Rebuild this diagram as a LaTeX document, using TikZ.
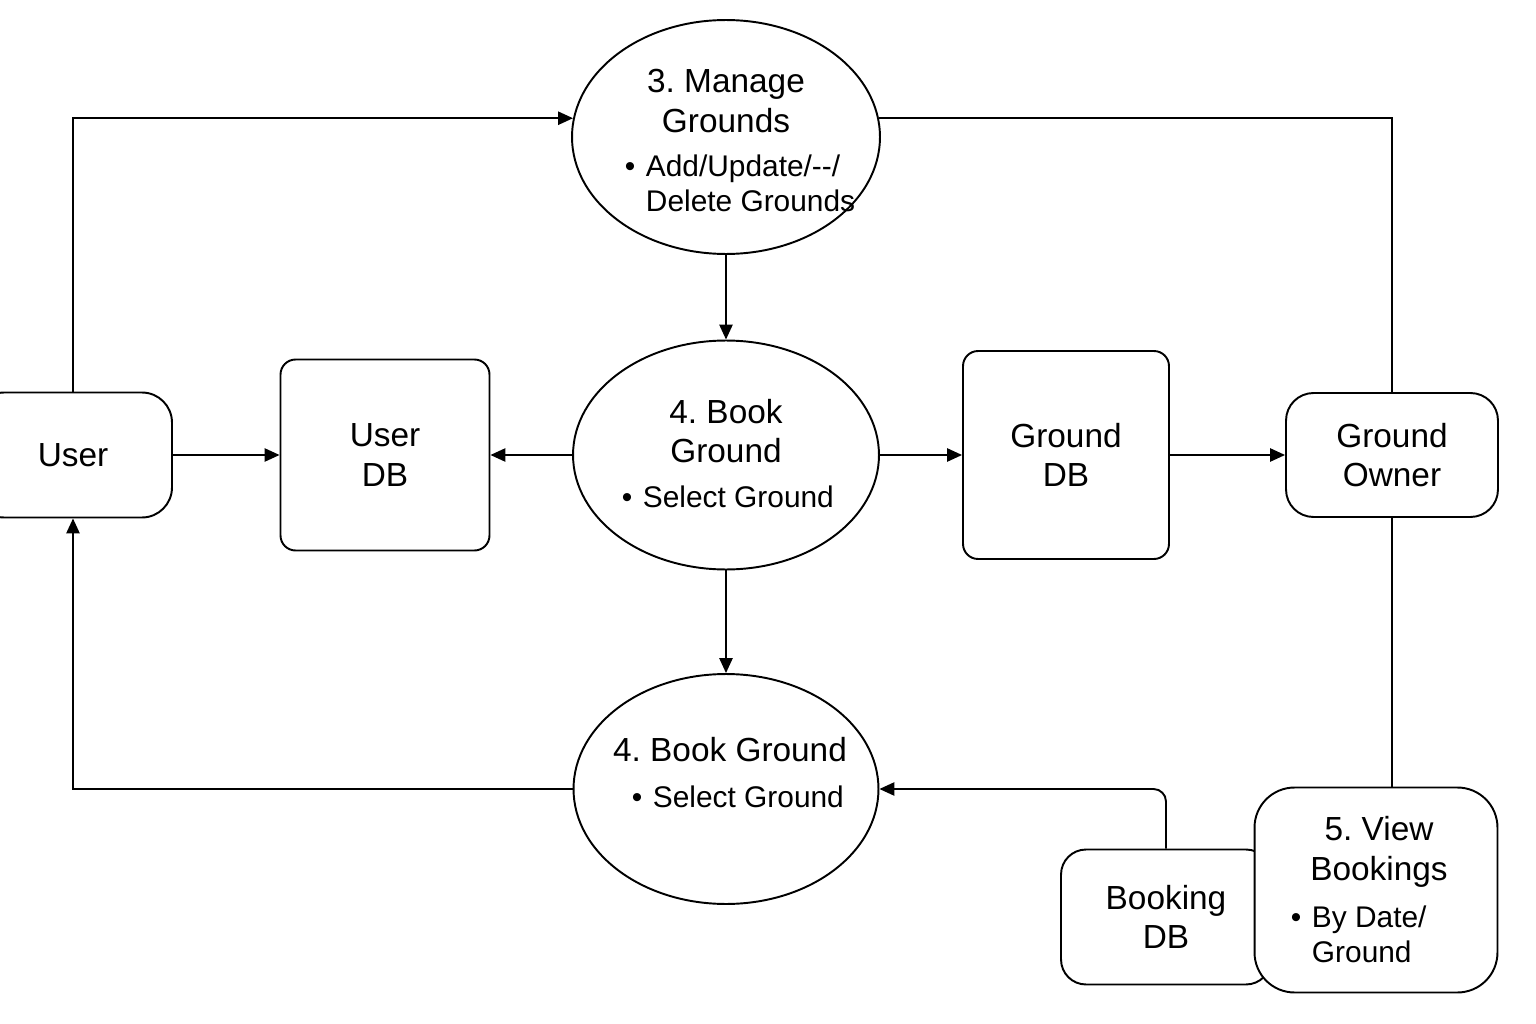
\documentclass[tikz,border=0pt]{standalone}
\usepackage{fontspec}
\setmainfont{Liberation Sans}
\usetikzlibrary{shapes.geometric,arrows.meta}
\frenchspacing
\newcommand{\bitem}[1]{\begin{tabular}{@{}l@{\hspace{6pt}}l@{}}\textbullet&#1\end{tabular}}
\begin{document}
\begin{tikzpicture}[
    x=0.02cm, y=-0.02cm,
    line width=1.1pt,
    box/.style={draw, rectangle, fill=white, align=center, inner sep=0pt,
        font=\fontsize{19}{22.5}\selectfont},
    proc/.style={draw, ellipse, inner sep=0pt},
    title/.style={align=center, inner sep=0pt, font=\fontsize{19}{22.5}\selectfont},
    bullets/.style={anchor=west, inner sep=0pt, font=\fontsize{17}{20}\selectfont},
    flow/.style={-{Triangle[length=8.5pt,width=7.5pt]}}
]
\useasboundingbox (0,0) rectangle (1536,1024);
% Prozesse
\node[proc, minimum width=6.16cm, minimum height=4.68cm] (manage) at (726,137) {};
\node[title] (manage-title) at (726,101) {3. Manage\\Grounds};
\node[bullets] (manage-items) at (624,187) {\bitem{Add/Update/-{}-/\\&Delete Grounds}};

\node[proc, minimum width=6.12cm, minimum height=4.58cm] (book) at (726,455) {};
\node[title] (book-title) at (726,431) {4. Book\\Ground};
\node[bullets] (book-items) at (621,500) {\bitem{Select Ground}};

\node[proc, minimum width=6.1cm, minimum height=4.6cm] (book2) at (726,789) {};
\node[title] (book2-title) at (730,750) {4. Book Ground};
\node[bullets] (book2-items) at (631,800) {\bitem{Select Ground}};

% Akteure und Datenspeicher
\node[box, minimum width=3.96cm, minimum height=2.5cm, rounded corners=0.6cm] (user) at (73,455) {User};
\node[box, minimum width=4.18cm, minimum height=3.82cm, rounded corners=0.3cm] (userdb) at (385,455) {User\\DB};
\node[box, minimum width=4.12cm, minimum height=4.16cm, rounded corners=0.3cm] (grounddb) at (1066,455) {Ground\\DB};
\node[box, minimum width=4.24cm, minimum height=2.48cm, rounded corners=0.55cm] (owner) at (1392,455) {Ground\\Owner};
\node[box, minimum width=4.2cm, minimum height=2.7cm, rounded corners=0.5cm] (bookingdb) at (1166,917) {Booking\\DB};

% Verbindungen
\draw[flow] (user.north) |- (manage.173);
\draw (owner.north) |- (manage.7);
\draw[flow] (user.east) -- (userdb.west);
\draw[flow] (book.west) -- (userdb.east);
\draw[flow] (book.east) -- (grounddb.west);
\draw[flow] (grounddb.east) -- (owner.west);
\draw[flow] (manage.south) -- (book.north);
\draw[flow] (book.south) -- (book2.north);
\draw[flow] (book2.west) -| (user.south);
\draw[flow, rounded corners=0.25cm] (bookingdb.north) |- (book2.east);
\draw (owner.south) -- ++(0,271) coordinate (view-top);

\node[box, minimum width=4.86cm, minimum height=4.1cm, rounded corners=0.8cm] (viewbk) at (1376,890) {};
\node[title] (viewbk-title) at (1379,852) {5. View\\Bookings};
\node[bullets] (viewbk-items) at (1290,938) {\bitem{By Date/\\&Ground}};
\end{tikzpicture}
\end{document}
